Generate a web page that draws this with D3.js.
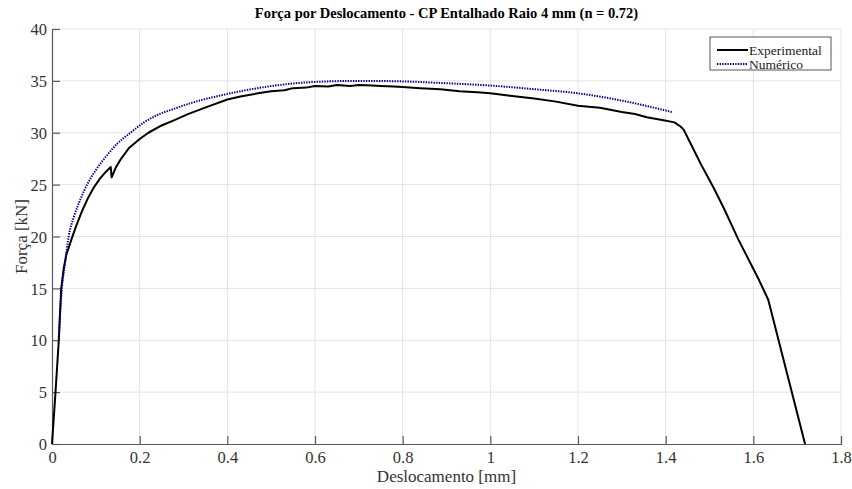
<!DOCTYPE html>
<html>
<head>
<meta charset="utf-8">
<script src="https://cdn.jsdelivr.net/npm/d3@7"></script>
<style>
  body { margin: 0; background: #fff; }
  text { font-family: "Liberation Serif", "Times New Roman", serif; }
</style>
</head>
<body>
<div id="chart"></div>
<script>
// experimental curve (Deslocamento [mm], Força [kN])
var expDisp = [0, 0.008, 0.0155, 0.021, 0.027, 0.033, 0.038, 0.045, 0.055, 0.068, 0.082, 0.095, 0.108, 0.122, 0.134, 0.136, 0.138,
  0.145, 0.156, 0.175, 0.2, 0.22, 0.25, 0.278, 0.31, 0.354, 0.4, 0.43, 0.47, 0.5, 0.53, 0.55, 0.58, 0.6, 0.63, 0.65, 0.68, 0.7,
  0.73, 0.75, 0.78, 0.8, 0.84, 0.886, 0.93, 0.97, 1.0, 1.05, 1.1, 1.15, 1.2, 1.25, 1.3, 1.33, 1.357, 1.395, 1.42, 1.434, 1.441,
  1.46, 1.48, 1.51, 1.533, 1.566, 1.613, 1.634, 1.718];
var expForce = [0, 5, 10, 15, 17, 18.3, 18.9, 19.8, 21, 22.4, 23.7, 24.7, 25.5, 26.2, 26.7, 25.7, 25.9,
  26.6, 27.4, 28.5, 29.4, 30.0, 30.7, 31.2, 31.8, 32.5, 33.2, 33.5, 33.8, 34.0, 34.1, 34.3, 34.35, 34.5, 34.45, 34.6, 34.5, 34.6,
  34.55, 34.5, 34.45, 34.4, 34.3, 34.2, 34.0, 33.9, 33.8, 33.55, 33.3, 33.0, 32.6, 32.4, 32.0, 31.8, 31.5, 31.2, 31.0, 30.6, 30.3,
  28.7, 27.0, 24.65, 22.7, 19.7, 15.8, 13.9, 0];

// numerical curve
var numDisp = [0.0155, 0.019, 0.023, 0.03, 0.038, 0.05, 0.065, 0.08, 0.1, 0.125, 0.15, 0.179, 0.21, 0.24, 0.278, 0.32, 0.385,
  0.43, 0.5, 0.6, 0.703, 0.8, 0.886, 1.0, 1.1, 1.2, 1.3, 1.414];
var numForce = [10.2, 13, 15.2, 17.5, 20, 21.9, 23.6, 25, 26.4, 27.8, 29.0, 30, 31.0, 31.7, 32.3, 32.9, 33.6,
  34.0, 34.5, 34.9, 35.0, 34.95, 34.8, 34.55, 34.2, 33.8, 33.1, 32.0];

var xTicks = [0, 0.2, 0.4, 0.6, 0.8, 1, 1.2, 1.4, 1.6, 1.8];
var yTicks = [0, 5, 10, 15, 20, 25, 30, 35, 40];
var seriesNames = ["Experimental", "Numérico"];

var width = 852, height = 489;
var margin = {top: 29, right: 11, bottom: 45, left: 52};
var plotW = width - margin.left - margin.right,
    plotH = height - margin.top - margin.bottom;
var serif = "'Liberation Serif', 'Times New Roman', serif";

var svg = d3.select("#chart").append("svg")
    .attr("width", width)
    .attr("height", height);

var g = svg.append("g")
    .attr("transform", "translate(" + margin.left + "," + margin.top + ")");

var x = d3.scaleLinear().domain([0, 1.8]).range([0, plotW]);
var y = d3.scaleLinear().domain([0, 40]).range([plotH, 0]);

// grid
g.append("g").selectAll("line")
    .data(xTicks.slice(1))
    .enter().append("line")
    .attr("x1", function(d) { return x(d); }).attr("x2", function(d) { return x(d); })
    .attr("y1", 0).attr("y2", plotH)
    .attr("stroke", "#e3e3e3").attr("stroke-width", 1);
g.append("g").selectAll("line")
    .data(yTicks.slice(1))
    .enter().append("line")
    .attr("y1", function(d) { return y(d); }).attr("y2", function(d) { return y(d); })
    .attr("x1", 0).attr("x2", plotW)
    .attr("stroke", "#e3e3e3").attr("stroke-width", 1);

// axes, ticks pointing inward
var xAxis = g.append("g")
    .attr("transform", "translate(0," + plotH + ")")
    .call(d3.axisBottom(x).tickValues(xTicks).tickSize(-8).tickPadding(8)
      .tickFormat(function(d) { return d3.format("")(d); }));
var yAxis = g.append("g")
    .call(d3.axisLeft(y).tickValues(yTicks).tickSize(-8).tickPadding(5));

[xAxis, yAxis].forEach(function(a) {
  a.attr("font-family", serif).attr("font-size", 16.5);
  a.select(".domain").attr("stroke", "#5a5a5a").attr("stroke-width", 1.2);
  a.selectAll(".tick line").attr("stroke", "#5a5a5a").attr("stroke-width", 1.2);
  a.selectAll(".tick text")
    .style("font-family", serif)
    .style("font-size", "16.5px")
    .attr("fill", "#333");
});
xAxis.selectAll(".tick text").attr("dy", "0.66em");
yAxis.selectAll(".tick text").attr("dy", "0.34em");

var line = d3.line()
    .x(function(d) { return x(d[0]); })
    .y(function(d) { return y(d[1]); });

var expData = expDisp.map(function(d, i) { return [d, expForce[i]]; });
var numData = numDisp.map(function(d, i) { return [d, numForce[i]]; });

g.append("path")
    .datum(expData)
    .attr("d", line)
    .attr("fill", "none")
    .attr("stroke", "#000")
    .attr("stroke-width", 2)
    .attr("stroke-linejoin", "round");

g.append("path")
    .datum(numData)
    .attr("d", d3.line().curve(d3.curveMonotoneX).x(function(d) { return x(d[0]); }).y(function(d) { return y(d[1]); }))
    .attr("fill", "none")
    .attr("stroke", "#000090")
    .attr("stroke-width", 2)
    .attr("stroke-dasharray", "1.4,1.2");

// title and labels
svg.append("text")
    .attr("x", margin.left + plotW / 2)
    .attr("y", 18)
    .attr("text-anchor", "middle")
    .style("font-size", "14.5px")
    .style("font-weight", "bold")
    .attr("fill", "#000")
    .text("Força por Deslocamento - CP Entalhado Raio 4 mm (n = 0.72)");

svg.append("text")
    .attr("x", margin.left + plotW / 2)
    .attr("y", 482)
    .attr("text-anchor", "middle")
    .style("font-size", "17px")
    .attr("fill", "#333")
    .text("Deslocamento [mm]");

svg.append("text")
    .attr("transform", "translate(27," + (margin.top + plotH / 2) + ") rotate(-90)")
    .attr("text-anchor", "middle")
    .style("font-size", "17px")
    .attr("fill", "#333")
    .text("Força [kN]");

// legend
var legend = svg.append("g").attr("transform", "translate(710,37)");
legend.append("rect")
    .attr("width", 121).attr("height", 33)
    .attr("fill", "#fff").attr("stroke", "#555").attr("stroke-width", 1);
var styles = [{stroke: "#000", dash: null}, {stroke: "#000090", dash: "1.4,1.2"}];
seriesNames.forEach(function(name, i) {
  var yy = 13 + i * 14;
  legend.append("line")
      .attr("x1", 7).attr("x2", 38).attr("y1", yy).attr("y2", yy)
      .attr("stroke", styles[i].stroke).attr("stroke-width", 2)
      .attr("stroke-dasharray", styles[i].dash);
  legend.append("text")
      .attr("x", 39).attr("y", yy + 4.5)
      .style("font-size", "13.5px")
      .attr("fill", "#222")
      .text(name);
});
</script>
</body>
</html>
